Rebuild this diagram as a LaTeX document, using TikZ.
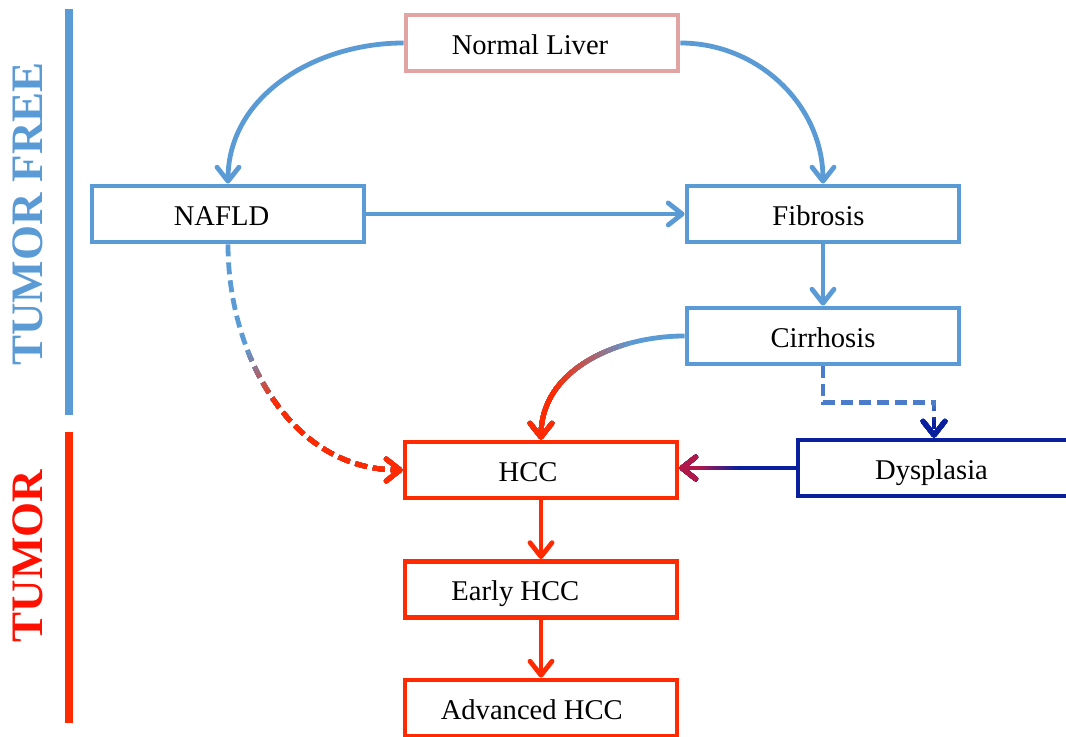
\documentclass[tikz,border=0pt]{standalone}
\usepackage{fontspec}
\setmainfont{Liberation Serif}
\usetikzlibrary{arrows.meta}
\definecolor{lblue}{HTML}{5B9BD5}
\definecolor{pinkb}{HTML}{E2A4A2}
\definecolor{tred}{HTML}{FF2A00}
\definecolor{txtred}{HTML}{FF1000}
\definecolor{dblue}{HTML}{0A1F9E}
\definecolor{crim}{HTML}{B0184A}
\definecolor{midblue}{HTML}{4A7CCB}
% #1 axis (x/y), #2 start colour, #3 end colour, #4 band start, #5 band end, #6 options, #7 path
\newcommand\gradpath[7]{%
  \draw[#6,#2] #7;
  \foreach \gpI in {1,...,14}{%
    \pgfmathsetmacro\gpT{#4+(#5-#4)*\gpI/14}%
    \pgfmathsetmacro\gpE{#5+(#5-#4)*100}%
    \pgfmathtruncatemacro\gpP{100*\gpI/14}%
    \begin{scope}
      \if x#1\clip (\gpT,-2000) rectangle (\gpE,3000);\else\clip (-2000,\gpT) rectangle (3000,\gpE);\fi
      \draw[#6,#3!\gpP!#2] #7;
    \end{scope}
  }%
}
\begin{document}
\begin{tikzpicture}[x=0.5pt,y=-0.5pt,
  box/.style={draw, line width=2.4pt, rectangle, minimum width=136pt, minimum height=28pt,
    inner sep=0pt, text height=11.5pt, text depth=0pt, font=\fontsize{14.3}{16}\selectfont},
  conn/.style={line width=2.4pt, -{Straight Barb[length=7pt,width=11pt,round]}},
  dsh/.style={dash pattern=on 6pt off 3pt},
  side/.style={font=\fontsize{22.5}{24}\selectfont\bfseries, rotate=90, inner sep=0pt, text depth=0pt},
  bar/.style={line width=4pt}
]
\useasboundingbox (0,0) rectangle (1066,737);

% side bars and labels
\draw[bar, lblue] (69,9) coordinate (b1s) -- (69,415) coordinate (b1e);
\draw[bar, tred] (69,432) coordinate (b2s) -- (69,723) coordinate (b2e);
\node[side, text=lblue] (tf) at (28,214) {TUMOR FREE};
\node[side, text=txtred] (tu) at (28,556) {TUMOR};

% boxes
\node[box, draw=pinkb] (nl) at (542,43) {Normal Liver\kern12pt};
\node[box, draw=lblue] (nafld) at (228,214) {NAFLD\kern6.5pt};
\node[box, draw=lblue] (fib) at (823,214) {Fibrosis\kern4.5pt};
\node[box, draw=lblue] (cir) at (823,336) {Cirrhosis};
\node[box, draw=tred] (hcc) at (541,470) {HCC\kern13pt};
\node[box, draw=dblue] (dys) at (934,468) {Dysplasia\kern2.5pt};
\node[box, draw=tred] (early) at (541,589.5) {Early HCC\kern25.7pt};
\node[box, draw=tred] (adv) at (541,708) {Advanced HCC\kern9.3pt};

% connectors
\draw[conn, lblue] (nl.west) to[out=180,in=90] (nafld.north);
\draw[conn, lblue] (nl.east) to[out=0,in=90] (fib.north);
\draw[conn, lblue] (nafld.east) -- (fib.west);
\draw[conn, lblue] (fib.south) -- (cir.north);
\gradpath{x}{lblue}{tred}{635}{555}{conn}{(cir.west) to[out=180,in=90] (hcc.north)}
\gradpath{y}{lblue}{tred}{345}{402}{conn,dsh}{(nafld.south) to[out=-90,in=180] (hcc.west)}
\gradpath{y}{midblue}{dblue}{404}{422}{conn,dsh}{(cir.south) -- ++(0,36) -| (dys.north)}
\gradpath{x}{dblue}{crim}{740}{700}{conn}{(dys.west) -- (dys.west -| hcc.east)}
\draw[conn, tred] (hcc.south) -- (early.north);
\draw[conn, tred] (early.south) -- (adv.north);
\end{tikzpicture}
\end{document}
